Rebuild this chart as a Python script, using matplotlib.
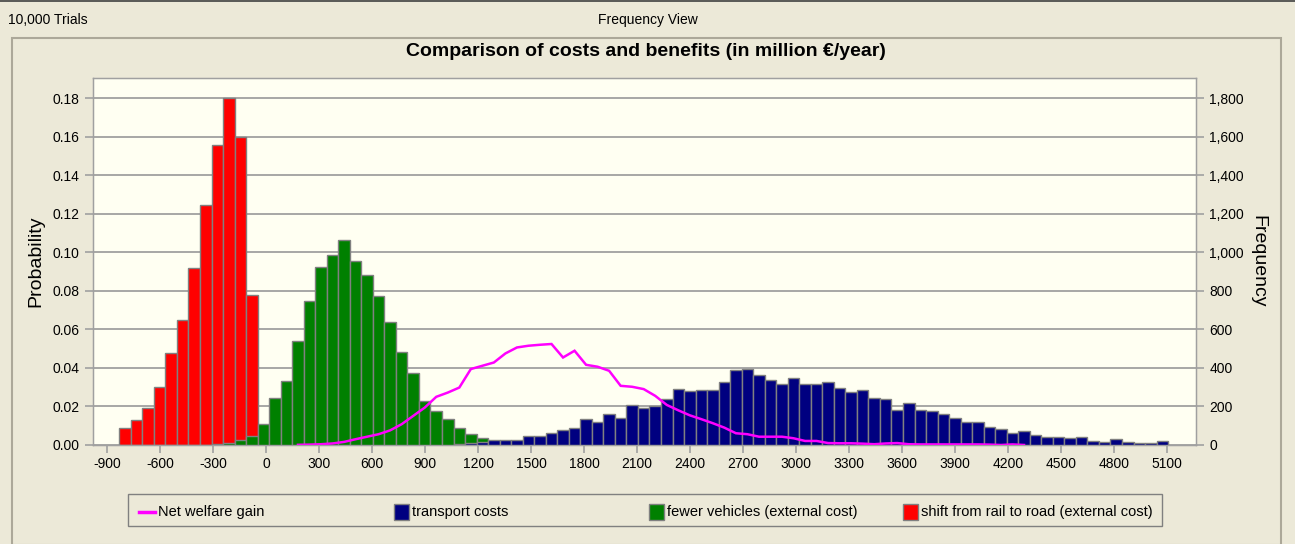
import numpy as np
import matplotlib
matplotlib.use("Agg")
import matplotlib.pyplot as plt
from matplotlib.patches import Rectangle
from matplotlib.lines import Line2D
from matplotlib.ticker import FuncFormatter

plt.rcParams['font.family'] = ['Liberation Sans', 'DejaVu Sans']
plt.rcParams['axes.unicode_minus'] = False

# ---------------- data ----------------
bin_lo, bin_hi, n_bins = -831.0, 5105.0, 91

red_first = 0
red_probs = [0.0087, 0.0128, 0.0194, 0.0300, 0.0477, 0.0650, 0.0917, 0.1245,
             0.1554, 0.1799, 0.1597, 0.0779]

green_first = 8
green_probs = [0.0006, 0.0012, 0.0024, 0.0047, 0.0108, 0.0245, 0.0333, 0.0541,
               0.0746, 0.0923, 0.0987, 0.1061, 0.0957, 0.0883, 0.0772, 0.0636,
               0.0484, 0.0375, 0.0229, 0.0177, 0.0134, 0.0087, 0.0059, 0.0038]

blue_first = 29
blue_probs = [0.0005, 0.0008, 0.0016, 0.0024, 0.0024, 0.0024, 0.0045, 0.0045,
              0.0064, 0.0078, 0.0087, 0.0134, 0.0121, 0.0160, 0.0140, 0.0210,
              0.0194, 0.0201, 0.0241, 0.0291, 0.0279, 0.0286, 0.0286, 0.0328,
              0.0389, 0.0394, 0.0363, 0.0335, 0.0319, 0.0347, 0.0319, 0.0319,
              0.0328, 0.0298, 0.0277, 0.0286, 0.0245, 0.0238, 0.0184, 0.0217,
              0.0184, 0.0175, 0.0161, 0.0141, 0.0119, 0.0119, 0.0094, 0.0083,
              0.0062, 0.0073, 0.0054, 0.0043, 0.0043, 0.0035, 0.0043, 0.0022,
              0.0016, 0.0031, 0.0016, 0.0010, 0.0010, 0.0019]

line_first = 15
line_probs = [0.0001, 0.0002, 0.0004, 0.0008, 0.0016, 0.0030, 0.0043, 0.0056,
              0.0076, 0.0108, 0.0151, 0.0194, 0.0250, 0.0272, 0.0298, 0.0394,
              0.0411, 0.0428, 0.0475, 0.0506, 0.0515, 0.0520, 0.0524, 0.0454,
              0.0489, 0.0416, 0.0406, 0.0385, 0.0307, 0.0302, 0.0290, 0.0255,
              0.0208, 0.0180, 0.0154, 0.0134, 0.0113, 0.0090, 0.0061, 0.0056,
              0.0043, 0.0043, 0.0043, 0.0035, 0.0021, 0.0021, 0.0010, 0.0009,
              0.0009, 0.0007, 0.0004, 0.0008, 0.0010, 0.0004, 0.0003, 0.0003,
              0.0003, 0.0003, 0.0003, 0.0003, 0.0002, 0.0000, 0.0003, 0.0000]

series_names = ["Net welfare gain", "transport costs",
                "fewer vehicles (external cost)",
                "shift from rail to road (external cost)"]
trials_text = "10,000 Trials"
view_text = "Frequency View"
title_text = "Comparison of costs and benefits (in million \u20ac/year)"
n_trials = 10000

# ---------------- layout ----------------
W, H = 1295, 544
BG = '#ECE9D8'
PLOT_BG = '#FFFFF2'
GRID = '#A0A0A0'
EDGE = '#808080'

fig = plt.figure(figsize=(W / 100, H / 100), dpi=100, facecolor=BG)

def fx(px):
    return px / W

def fy(py):
    return 1 - py / H

# window decorations
fig.add_artist(Line2D([0, 1], [fy(0.5), fy(0.5)], color='#404040', lw=1.2,
                      transform=fig.transFigure))
fig.add_artist(Rectangle((fx(12), fy(545)), fx(1281) - fx(12), fy(38) - fy(545),
                         fill=False, ec='#ACA899', lw=1.5,
                         transform=fig.transFigure))
fig.text(fx(8), fy(20), trials_text, fontsize=10, va='center', ha='left')
fig.text(fx(648), fy(20), view_text, fontsize=10, va='center', ha='center')
fig.text(fx(646), fy(52), title_text, fontsize=14, fontweight='bold',
         va='center', ha='center')

ax = fig.add_axes([fx(93), fy(445), fx(1196) - fx(93), fy(78) - fy(445)])
ax.set_facecolor(PLOT_BG)

edges = np.linspace(bin_lo, bin_hi, n_bins + 1)
width = edges[1] - edges[0]
centers = edges[:-1] + width / 2

def draw_bars(first, probs, color, z):
    idx = np.arange(first, first + len(probs))
    ax.bar(edges[idx], probs, width=width, align='edge', color=color,
           edgecolor=EDGE, linewidth=1.0, zorder=z)

draw_bars(red_first, red_probs, '#FF0000', 2)
draw_bars(green_first, green_probs, '#008000', 3)
draw_bars(blue_first, blue_probs, '#000080', 4)
lidx = np.arange(line_first, line_first + len(line_probs))
ax.plot(centers[lidx], line_probs, color='#FF00FF', lw=1.8, zorder=5,
        solid_joinstyle='miter')

ax.set_xlim(-980, 5263)
ax.set_ylim(0, 0.1904)
ax.set_xticks(np.arange(-900, 5101, 300))
ax.set_yticks(np.arange(0, 0.181, 0.02))
ax.yaxis.set_major_formatter(FuncFormatter(lambda v, p: f"{v:.2f}"))
ax.grid(axis='y', color=GRID, lw=1.3)
ax.set_axisbelow(True)
for s in ax.spines.values():
    s.set_color(GRID)
    s.set_linewidth(1.0)
ax.tick_params(axis='both', colors=GRID, length=6, width=1.2, labelsize=10,
               labelcolor='black')
ax.tick_params(axis='x', pad=3)
ax.set_ylabel("Probability", fontsize=14, labelpad=6)

ax2 = ax.twinx()
ax2.set_ylim(0, 0.1904 * n_trials)
ax2.set_yticks(np.arange(0, 1801, 200))
ax2.yaxis.set_major_formatter(FuncFormatter(lambda v, p: f"{v:,.0f}"))
ax2.tick_params(axis='y', colors=GRID, length=6, width=1.2, labelsize=10,
                labelcolor='black')
for s in ax2.spines.values():
    s.set_color(GRID)
ax2.set_ylabel("Frequency", fontsize=14, rotation=270, labelpad=16)

# legend box
fig.add_artist(Rectangle((fx(128), fy(526)), fx(1162) - fx(128), fy(494) - fy(526),
                         fill=False, ec='#808080', lw=1.0,
                         transform=fig.transFigure))
ly = 512
fig.add_artist(Line2D([fx(139), fx(155)], [fy(ly), fy(ly)], color='#FF00FF',
                      lw=2.5, transform=fig.transFigure))
fig.text(fx(158), fy(ly), series_names[0], fontsize=10.5, va='center')
for (x0, col, name) in [(394, '#000080', series_names[1]),
                        (649, '#008000', series_names[2]),
                        (903, '#FF0000', series_names[3])]:
    fig.add_artist(Rectangle((fx(x0), fy(ly + 8)), fx(15), fy(ly - 8) - fy(ly + 8),
                             fc=col, ec='#808080', lw=1.0,
                             transform=fig.transFigure))
    fig.text(fx(x0 + 18), fy(ly), name, fontsize=10.5, va='center')

fig.savefig("out.png", dpi=100, facecolor=BG)
